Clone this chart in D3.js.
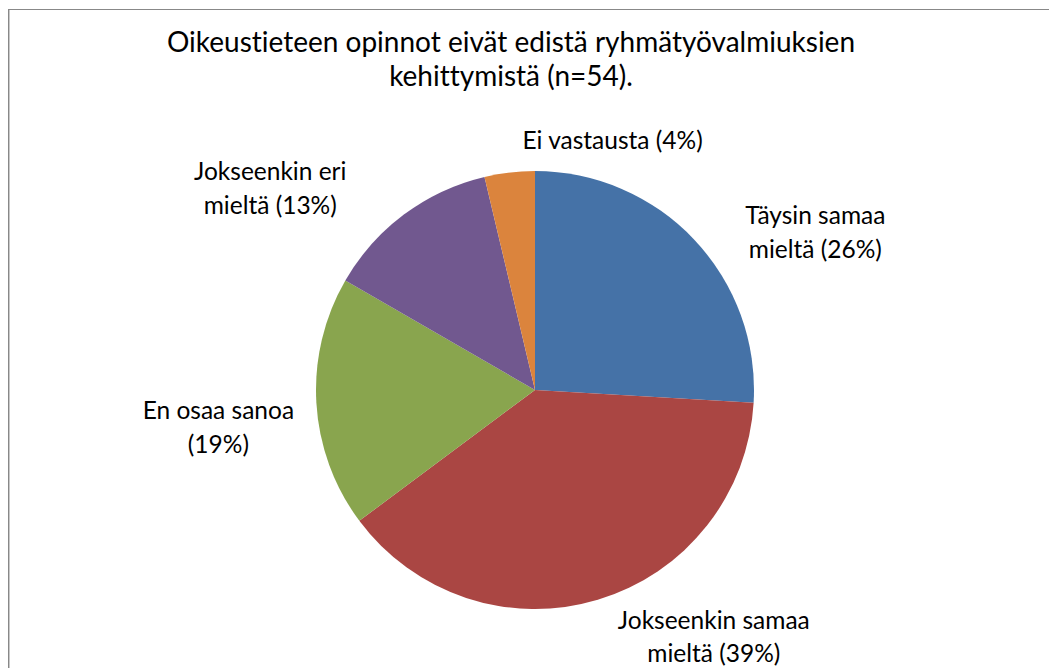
<!DOCTYPE html>
<html>
<head>
<meta charset="utf-8">
<script src="https://cdn.jsdelivr.net/npm/d3@7"></script>
<style>
  body { margin: 0; background: #fff; }
  text { font-family: Lato, "Open Sans", sans-serif; fill: #000; font-variant-ligatures: none; }
</style>
</head>
<body>
<div id="chart"></div>
<script>
// data
const categories = ["Täysin samaa mieltä", "Jokseenkin samaa mieltä", "En osaa sanoa", "Jokseenkin eri mieltä", "Ei vastausta"];
const counts = [14, 21, 10, 7, 2];
const labelLines = [
    ["Täysin samaa", "mieltä (26%)"],
    ["Jokseenkin samaa", "mieltä (39%)"],
    ["En osaa sanoa", "(19%)"],
    ["Jokseenkin eri", "mieltä (13%)"],
    ["Ei vastausta (4%)"]
];
const titleLines = ["Oikeustieteen opinnot eivät edistä ryhmätyövalmiuksien", "kehittymistä (n=54)."];

const colors = ["#4572A7", "#AA4643", "#89A54E", "#71588F", "#DB843D"];

const W = 1049, H = 668;
const cx = 535, cy = 390, radius = 219;
// label nudges from the slice edge midpoint (Excel "best fit" placement)
const labelOffsets = [[121, -7], [116, 37], [-98, 25], [-134, -26], [103, -32]];

const svg = d3.select("#chart").append("svg")
    .attr("width", W).attr("height", H);

// chart frame (runs off right and bottom)
svg.append("rect")
    .attr("x", 8.5).attr("y", 9.5).attr("width", W + 10).attr("height", H + 10)
    .attr("fill", "none").attr("stroke", "#888").attr("stroke-width", 1);
svg.append("line").attr("x1", 9.5).attr("x2", 9.5).attr("y1", 10).attr("y2", H)
    .attr("stroke", "#c8c8c8").attr("stroke-width", 1);

// title
svg.append("text")
    .attr("text-anchor", "middle").attr("font-size", 28)
    .selectAll("tspan").data(titleLines).join("tspan")
    .attr("x", 511).attr("y", (d, i) => 52 + i * 34)
    .text(d => d);

const pie = d3.pie().sort(null).value(d => d);
const arcs = pie(counts);
const arc = d3.arc().innerRadius(0).outerRadius(radius);

const g = svg.append("g").attr("transform", `translate(${cx},${cy})`);
g.selectAll("path.slice").data(arcs).join("path")
    .attr("class", "slice")
    .attr("d", arc)
    .attr("fill", (d, i) => colors[i]);

// labels
const labels = g.selectAll("text.lbl").data(arcs).join("text")
    .attr("class", "lbl")
    .attr("text-anchor", "middle")
    .attr("font-size", 24.5)
    .attr("transform", (d, i) => {
        const a = (d.startAngle + d.endAngle) / 2;
        const x = radius * Math.sin(a) + labelOffsets[i][0];
        const y = -radius * Math.cos(a) + labelOffsets[i][1];
        return `translate(${x},${y})`;
    });
labels.selectAll("tspan").data((d, i) => labelLines[i].map((t, k, arr) => ({t, k, n: arr.length})))
    .join("tspan")
    .attr("x", 0)
    .attr("y", d => (d.k - (d.n - 1) / 2) * 33.5 + 8.5)
    .text(d => d.t);
</script>
</body>
</html>
